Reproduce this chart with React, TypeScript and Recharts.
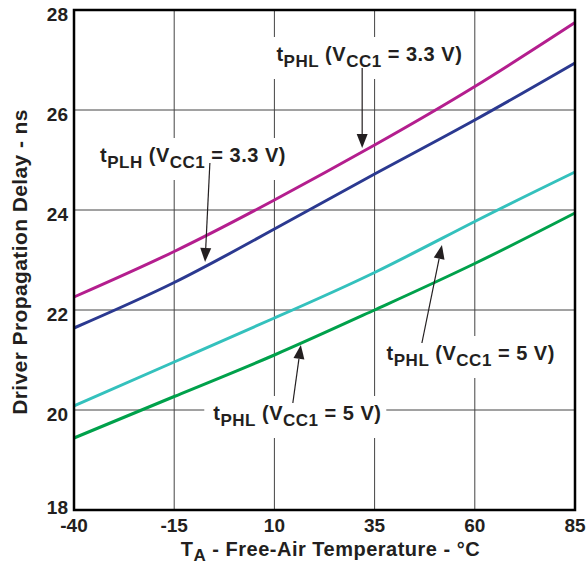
import React from 'react';
import {
  LineChart, Line, XAxis, YAxis, CartesianGrid, ReferenceLine, ReferenceDot, ReferenceArea, Label,
} from 'recharts';

// temperatures (°C) read at the grid columns
const temps = [-40, -15, 10, 35, 60, 85];
const tphl33 = [22.26, 23.17, 24.2, 25.3, 26.47, 27.75];
const tplh33 = [21.64, 22.55, 23.62, 24.72, 25.8, 26.94];
const tplh5 = [20.08, 20.96, 21.84, 22.75, 23.77, 24.76];
const tphl5 = [19.44, 20.27, 21.1, 22.0, 22.93, 23.94];

const xTicks = [-40, -15, 10, 35, 60, 85];
const yTicks = [18, 20, 22, 24, 26, 28];

const data = temps.map((t, i) => ({
  t,
  a: tphl33[i],
  b: tplh33[i],
  c: tplh5[i],
  d: tphl5[i],
}));

const FONT = '"Liberation Sans", Arial, Helvetica, sans-serif';
const INK = '#231f20';

// annotation: baseline start in data units
const notes = [
  { x: 10.5, y: 26.98, sub: 'PHL', v: '3.3 V', w: 202 },
  { x: -33.5, y: 24.96, sub: 'PLH', v: '3.3 V', w: 202 },
  { x: 38, y: 21.0, sub: 'PHL', v: '5 V', w: 182 },
  { x: -5.25, y: 19.8, sub: 'PHL', v: '5 V', w: 182 },
];

// arrows: from -> tip
const arrows = [
  { x1: 31.9, y1: 26.84, x2: 31.9, y2: 25.24 },
  { x1: -6.1, y1: 24.94, x2: -7.3, y2: 22.96 },
  { x1: 46.8, y1: 21.34, x2: 51.8, y2: 23.3 },
  { x1: 14.6, y1: 20.14, x2: 16.6, y2: 21.3 },
];

const Arrow = (p: any) => {
  const { x1, y1, x2, y2 } = p;
  const ang = Math.atan2(y2 - y1, x2 - x1);
  const len = 14;
  const half = 5.5;
  const bx = x2 - len * Math.cos(ang);
  const by = y2 - len * Math.sin(ang);
  const px = -Math.sin(ang) * half;
  const py = Math.cos(ang) * half;
  return (
    <g>
      <line x1={x1} y1={y1} x2={bx} y2={by} stroke={INK} strokeWidth={1.2} />
      <polygon points={`${x2},${y2} ${bx + px},${by + py} ${bx - px},${by - py}`} fill={INK} />
    </g>
  );
};

const Note = ({ cx, cy, sub, v, w }: any) => (
  <g>
    <rect x={cx - 9} y={cy - 24} width={w} height={42} fill="#fff" />
    <text x={cx} y={cy} fontFamily={FONT} fontWeight="bold" fontSize={20} fill={INK} letterSpacing={0.5}>
      t
      <tspan fontSize={17} dy={6}>{sub}</tspan>
      <tspan fontSize={20} dy={-6}> (V</tspan>
      <tspan fontSize={17} dy={6}>CC1</tspan>
      <tspan fontSize={20} dy={-6}> = {v})</tspan>
    </text>
  </g>
);

const YTick = ({ x, y, payload }: any) => (
  <text
    x={x}
    y={y + (payload.value === 18 ? -3 : 4)}
    dy="0.355em"
    textAnchor="end"
    fontFamily={FONT}
    fontWeight="bold"
    fontSize={19}
    fill={INK}
  >
    {payload.value}
  </text>
);

const XTick = ({ x, y, payload }: any) => (
  <text x={x} y={y} dy="0.71em" textAnchor="middle" fontFamily={FONT} fontWeight="bold" fontSize={19} fill={INK}>
    {payload.value}
  </text>
);

const XTitle = ({ viewBox }: any) => {
  const cx = viewBox.x + viewBox.width / 2 + 6;
  return (
    <text x={cx} y={556} textAnchor="middle" fontFamily={FONT} fontWeight="bold" fontSize={20} letterSpacing={0.5} fill={INK}>
      T<tspan fontSize={17} dy={5}>A</tspan>
      <tspan fontSize={20} dy={-5}> - Free-Air Temperature - °C</tspan>
    </text>
  );
};

const YTitle = ({ viewBox }: any) => {
  const cy = viewBox.y + viewBox.height / 2 + 2;
  return (
    <text
      x={27}
      y={cy}
      transform={`rotate(-90 27 ${cy})`}
      textAnchor="middle"
      fontFamily={FONT}
      fontWeight="bold"
      fontSize={21}
      letterSpacing={0.4}
      fill={INK}
    >
      Driver Propagation Delay - ns
    </text>
  );
};

const App = () => {
  return (
    <div style={{ position: 'absolute', left: 0, top: 0, background: '#fff' }}>
      <LineChart width={586} height={567} data={data} margin={{ top: 10, right: 11, left: 0, bottom: 0 }}>
        <CartesianGrid stroke="#444" strokeWidth={1} zIndex={-100} />
        <XAxis
          dataKey="t"
          type="number"
          domain={[-40, 85]}
          ticks={xTicks}
          tick={<XTick />}
          tickLine={false}
          axisLine={false}
          tickSize={6}
          tickMargin={3}
          height={57}
        >
          <Label content={<XTitle />} />
        </XAxis>
        <YAxis
          type="number"
          domain={[18, 28]}
          ticks={yTicks}
          tick={<YTick />}
          tickLine={false}
          axisLine={false}
          tickSize={6}
          tickMargin={0}
          width={74}
        >
          <Label content={<YTitle />} />
        </YAxis>
        {notes.map((n, i) => (
          <ReferenceDot
            key={'n' + i}
            x={n.x}
            y={n.y}
            ifOverflow="visible"
            zIndex={900}
            shape={(p: any) => <Note cx={p.cx} cy={p.cy} sub={n.sub} v={n.v} w={n.w} />}
          />
        ))}
        <ReferenceArea x1={-40} x2={85} y1={18} y2={28} fill="none" stroke="#000" strokeWidth={2.5} strokeOpacity={1} fillOpacity={0} zIndex={950} />
        <Line type="natural" dataKey="a" stroke="#b41e8e" strokeWidth={3} dot={false} isAnimationActive={false} />
        <Line type="natural" dataKey="b" stroke="#2b3990" strokeWidth={3} dot={false} isAnimationActive={false} />
        <Line type="natural" dataKey="c" stroke="#34c1bd" strokeWidth={3} dot={false} isAnimationActive={false} />
        <Line type="natural" dataKey="d" stroke="#00a14b" strokeWidth={3} dot={false} isAnimationActive={false} />
        {arrows.map((a, i) => (
          <ReferenceLine
            key={'a' + i}
            segment={[{ x: a.x1, y: a.y1 }, { x: a.x2, y: a.y2 }]}
            ifOverflow="visible"
            zIndex={1000}
            shape={<Arrow />}
          />
        ))}
      </LineChart>
    </div>
  );
};

export default App;
